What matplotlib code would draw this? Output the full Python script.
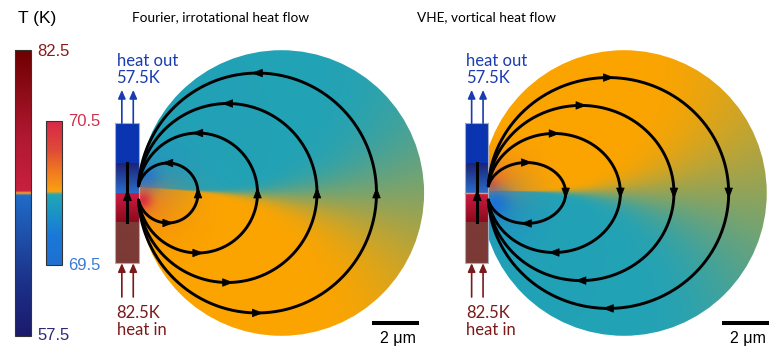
import numpy as np
import matplotlib.pyplot as plt
from matplotlib.colors import LinearSegmentedColormap, to_rgb
from matplotlib.patches import Circle, Rectangle, Polygon

W, H = 780, 350
UM = 23.8  # pixels per micrometre (2 um scale bar)

# colour scales: temperature (K) -> colour
outer_T = [57.5, 62.0, 66.5, 69.8, 70.0, 70.2, 75.0, 82.5]
outer_colors = ['#1b1a6c', '#1c3088', '#1f52ac', '#1f6cc8', '#f0a030', '#c82040', '#b01830', '#6e0000']
inner_T = [69.5, 69.7, 69.85, 69.99, 70.01, 70.15, 70.3, 70.5]
inner_colors = ['#2070d0', '#1a78d8', '#1a92c8', '#22a8b2', '#f8a210', '#f07a20', '#e04a38', '#d82848']
outer_labels = ['57.5', '82.5']
inner_labels = ['69.5', '70.5']

disk_radius = 6.0  # um
# streamlines: horizontal reach from the contact and half height (um)
fourier_reach = [2.5, 5.0, 7.5, 10.0]
fourier_half_height = [1.26, 2.52, 3.76, 5.04]
vhe_reach = [3.25, 5.55, 7.8, 10.1]
vhe_half_height = [1.28, 2.5, 3.68, 4.85]

titles = ['Fourier, irrotational heat flow', 'VHE, vortical heat flow']
cold_label, hot_label = '57.5K', '82.5K'

TEAL = np.array(to_rgb('#22a2b6'))
ORANGE = np.array(to_rgb('#fca500'))

fig = plt.figure(figsize=(7.8, 3.5), dpi=100)

# ---- base axes in pixels: colour bars, titles ----
base = fig.add_axes([0, 0, 1, 1])
base.set_xlim(0, W)
base.set_ylim(H, 0)
base.axis('off')

def make_cmap(T, colors):
    pos = (np.array(T) - T[0]) / (T[-1] - T[0])
    return LinearSegmentedColormap.from_list('c', list(zip(pos, colors)), N=512)

def colorbar(x0, x1, y_top, y_bot, T, colors, labels, label_colors):
    vals = np.linspace(T[-1], T[0], 400)[:, None]
    base.imshow(vals, cmap=make_cmap(T, colors), vmin=T[0], vmax=T[-1],
                extent=(x0, x1, y_bot, y_top), aspect='auto', interpolation='bilinear')
    base.add_patch(Rectangle((x0, y_top), x1 - x0, y_bot - y_top, fill=False,
                             edgecolor='#333333', lw=0.8))
    base.text(x1 + 6, y_top + 1, labels[1], color=label_colors[1], fontsize=12,
              family='Liberation Sans', va='center')
    base.text(x1 + 6, y_bot, labels[0], color=label_colors[0], fontsize=12,
              family='Liberation Sans', va='center')

colorbar(15, 31, 50, 336, outer_T, outer_colors, outer_labels, ['#2b2a78', '#8b1a1a'])
colorbar(46, 62, 121, 265, inner_T, inner_colors, inner_labels, ['#3a7bd5', '#d0304c'])
base.text(18, 22.7, 'T (K)', fontsize=12.5, family='Liberation Sans', va='baseline')

base.text(131.7, 21.5, titles[0], fontsize=9.8, family='Lato', va='baseline')
base.text(416.7, 21.5, titles[1], fontsize=9.8, family='Lato', va='baseline')


def disk_rgb(x, y, upper, lower, y0, tilt, spread, spots):
    r = np.hypot(x, y)
    theta = -tilt - np.degrees(np.arctan2(y - y0, x))  # degrees below the split line
    sig = 0.3 + spread * (r / 12.0) ** 2.2
    w = 0.5 * (1 + np.tanh(theta / sig))[..., None]
    rgb = upper * (1 - w) + lower * w
    for sx, sy, col, s, amp in spots:
        g = amp * np.exp(-((x - sx) ** 2 + (y - sy) ** 2) / (2 * s ** 2))[..., None]
        rgb = rgb * (1 - g) + np.array(to_rgb(col)) * g
    return np.clip(rgb, 0, 1)


def loop(reach, half_h, gap=0.3, n=400):
    k = np.sqrt(1 - (gap / half_h) ** 2)
    a = reach / (1 + k)
    cx = reach - a
    t0 = np.arctan2(-gap / half_h, -cx / a)
    t1 = np.arctan2(gap / half_h, -cx / a)
    t = np.linspace(t0, t1, n)
    return cx, a, t


def head(ax, p, u, L=0.42, hw=0.16, color='black'):
    u = np.asarray(u) / np.hypot(*u)
    nrm = np.array([-u[1], u[0]])
    tip = p + u * L / 2
    b = p - u * L / 2
    ax.add_patch(Polygon([tip, b + nrm * hw, b - nrm * hw], closed=True,
                         facecolor=color, edgecolor=color, lw=0.5, zorder=5))


def panel(cx_px, cy_px, disk_cx, reach, half_h, sign, upper, lower, y0, tilt, spread,
          spots, strip_band):
    ax = fig.add_axes([0, 0, 1, 1])
    ax.set_xlim(-cx_px / UM, (W - cx_px) / UM)
    ax.set_ylim(-(H - cy_px) / UM, cy_px / UM)
    ax.patch.set_visible(False)
    ax.axis('off')

    R = disk_radius
    gx, gy = np.meshgrid(np.linspace(disk_cx - R, disk_cx + R, 500), np.linspace(-R, R, 500))
    img = ax.imshow(disk_rgb(gx, gy, upper, lower, y0, tilt, spread, spots),
                    extent=(disk_cx - R, disk_cx + R, -R, R), origin='lower',
                    interpolation='bilinear', zorder=1)
    img.set_clip_path(Circle((disk_cx, 0), R, transform=ax.transData))

    # contact electrode
    ex0, ex1 = -0.97, 0.0
    layers = [(-2.93, -1.22, '#7b3a36', '#7b3a36'),
              (-1.22, 0.0, '#8c0a1c', '#d01c44'),
              (0.0, 1.25, '#2a6cc8', '#1c2278'),
              (1.25, 2.93, '#0a34b0', '#0a34b0')]
    for yb, yt, cb, ct in layers:
        grad = np.linspace(0, 1, 50)[:, None, None]
        col = np.array(to_rgb(cb)) * (1 - grad) + np.array(to_rgb(ct)) * grad
        ax.imshow(col, extent=(ex0, ex1, yb, yt), origin='lower', aspect='auto', zorder=2)
    if strip_band:
        ax.plot([ex0, ex1], [0.02, 0.02], color='#f0a030', lw=1.0, zorder=2)
    ax.add_patch(Rectangle((ex0, -2.93), ex1 - ex0, 5.86, fill=False,
                           edgecolor='#a8aec0', lw=0.8, zorder=3))
    xm = (ex0 + ex1) / 2 + 0.02
    ax.plot([xm, xm], [-1.22, 1.26], color='black', lw=2.2, zorder=4)
    head(ax, np.array([xm, -0.1]), (0, 1), L=0.45, hw=0.17)

    # heat in / out arrows and labels
    for xa in (-0.7, -0.22):
        ax.annotate('', xy=(xa, 4.33), xytext=(xa, 2.93),
                    arrowprops=dict(arrowstyle='-|>,head_length=0.5,head_width=0.22',
                                    color='#1a3cb0', lw=1.2, mutation_scale=10, shrinkA=0, shrinkB=0))
        ax.annotate('', xy=(xa, -2.95), xytext=(xa, -4.37),
                    arrowprops=dict(arrowstyle='-|>,head_length=0.5,head_width=0.22',
                                    color='#7a1a1a', lw=1.2, mutation_scale=10, shrinkA=0, shrinkB=0))
    tx = -0.92
    ax.text(tx, 5.34, 'heat out', color='#1a3cb0', fontsize=12, family='Lato', va='baseline')
    ax.text(tx, 4.63, cold_label, color='#1a3cb0', fontsize=12, family='Lato', va='baseline')
    ax.text(tx, -5.27, hot_label, color='#7a1a1a', fontsize=12, family='Lato', va='baseline')
    ax.text(tx, -5.97, 'heat in', color='#7a1a1a', fontsize=12, family='Lato', va='baseline')

    # streamlines
    for rch, hh in zip(reach, half_h):
        cx, a, t = loop(rch, hh)
        ax.plot(cx + a * np.cos(t), hh * np.sin(t), color='black', lw=2.1,
                solid_capstyle='round', zorder=4)
        for tt in (-np.pi / 2, 0.0, np.pi / 2):
            p = np.array([cx + a * np.cos(tt), hh * np.sin(tt)])
            u = sign * np.array([-a * np.sin(tt), hh * np.cos(tt)])
            head(ax, p, u)

    # scale bar
    ax.plot([9.8, 11.8], [-5.46, -5.46], color='black', lw=2.9, solid_capstyle='butt')
    ax.text(10.9, -6.3, '2 \u03bcm', fontsize=11.5, family='Liberation Sans',
            ha='center', va='baseline')
    return ax


panel(138.5, 193, 6.0, fourier_reach, fourier_half_height, +1, TEAL, ORANGE, 0.25, 3.9, 22.0,
      [(1.0, 1.0, '#1a84d0', 1.0, 0.3), (1.0, -1.0, '#f07a10', 1.2, 0.25),
       (0.3, 0.6, '#1a70d8', 0.4, 0.85), (0.5, -0.5, '#f07828', 0.6, 0.5),
       (0.15, -0.3, '#d82848', 0.28, 0.9)], False)
panel(488.3, 193, 5.7, vhe_reach, vhe_half_height, -1, ORANGE, TEAL, 0.1, 1.0, 32.0,
      [(0.8, 0.8, '#f07a20', 0.9, 0.3), (0.8, -0.9, '#1a80d0', 1.0, 0.35),
       (0.3, 0.6, '#f07020', 0.45, 0.7), (0.12, 0.35, '#e04838', 0.2, 0.7),
       (0.3, -0.45, '#1a70d8', 0.45, 0.9)], True)

fig.savefig('out.png', dpi=100)
